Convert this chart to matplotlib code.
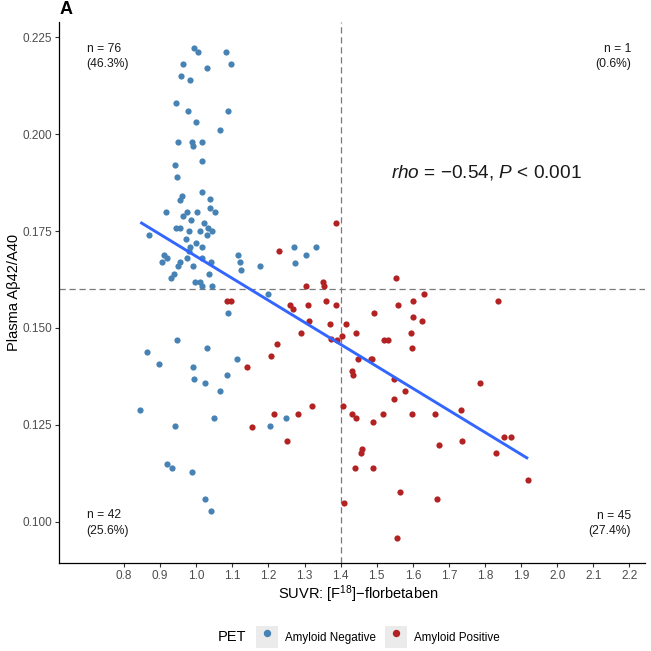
import matplotlib
matplotlib.use("Agg")
import matplotlib.pyplot as plt
import numpy as np
from matplotlib.lines import Line2D
from matplotlib.patches import Rectangle
from matplotlib.legend_handler import HandlerTuple

plt.rcParams["font.family"] = ["Liberation Sans", "DejaVu Sans"]
plt.rcParams["mathtext.fontset"] = "custom"
plt.rcParams["mathtext.rm"] = "Liberation Sans"
plt.rcParams["mathtext.it"] = "Liberation Sans:italic"
plt.rcParams["mathtext.default"] = "regular"

# SUVR (x) and plasma Abeta42/40 ratio (y)
neg_x = [0.994, 1.004, 1.081, 1.096, 0.963, 1.029, 0.958, 0.983, 0.943, 0.977,
         1.088, 1.000, 1.067, 0.950, 0.988, 0.990, 1.017, 0.942, 1.015, 0.946,
         0.960, 1.017, 1.039, 0.955, 1.039, 1.053, 0.917, 0.975, 1.002, 0.964,
         0.986, 1.021, 0.943, 0.956, 1.032, 1.044, 0.980, 1.010, 1.030, 0.869,
         0.971, 1.000, 1.016, 0.982, 0.980, 0.911, 0.920, 0.905, 0.973, 1.017,
         1.040, 0.956, 0.948, 1.115, 1.120, 1.124, 0.992, 1.176, 1.036, 0.937,
         0.930, 0.996, 1.010, 1.017, 1.044, 1.270, 1.332, 1.305, 1.273,
         1.087, 0.946, 0.864, 1.031, 1.113, 0.898, 0.990, 0.993, 1.024, 1.086,
         1.067, 0.845, 1.050, 0.941, 0.919, 0.933, 0.989, 1.025, 1.040, 1.199,
         1.248, 1.203]
neg_y = [0.2221, 0.2211, 0.2211, 0.2180, 0.2180, 0.2170, 0.2150, 0.2140, 0.2080, 0.2060,
         0.2060, 0.2030, 0.2010, 0.1980, 0.1980, 0.1970, 0.1980, 0.1919, 0.1930, 0.1890,
         0.1840, 0.1850, 0.1832, 0.1830, 0.1809, 0.1800, 0.1800, 0.1800, 0.1800, 0.1789,
         0.1779, 0.1770, 0.1758, 0.1758, 0.1758, 0.1749, 0.1749, 0.1749, 0.1740, 0.1740,
         0.1729, 0.1719, 0.1709, 0.1709, 0.1699, 0.1689, 0.1680, 0.1669, 0.1680, 0.1680,
         0.1669, 0.1669, 0.1659, 0.1689, 0.1669, 0.1650, 0.1659, 0.1659, 0.1638, 0.1638,
         0.1628, 0.1619, 0.1619, 0.1608, 0.1608, 0.1710, 0.1710, 0.1689, 0.1668,
         0.1539, 0.1468, 0.1438, 0.1449, 0.1420, 0.1408, 0.1399, 0.1369, 0.1359, 0.1378,
         0.1338, 0.1288, 0.1268, 0.1248, 0.1148, 0.1138, 0.1128, 0.1058, 0.1028, 0.1588,
         0.1268, 0.1248]

pos_x = [1.228, 1.303, 1.350, 1.354, 1.387, 1.554,
         1.086, 1.096, 1.140, 1.155, 1.260, 1.268, 1.309, 1.359, 1.387, 1.312,
         1.370, 1.289, 1.372, 1.389, 1.223, 1.208, 1.321, 1.282, 1.216, 1.252,
         1.630, 1.558, 1.599, 1.492, 1.601, 1.625, 1.416, 1.442, 1.596, 1.403,
         1.519, 1.532, 1.598, 1.449, 1.484, 1.488, 1.430, 1.433, 1.548, 1.577,
         1.548, 1.406, 1.431, 1.442, 1.490, 1.517, 1.598, 1.660, 1.671, 1.460,
         1.456, 1.440, 1.489, 1.565, 1.668, 1.410, 1.555, 1.836, 1.787, 1.732,
         1.735, 1.852, 1.872, 1.830, 1.919]
pos_y = [0.1699, 0.1608, 0.1619, 0.1608, 0.1770, 0.1629,
         0.1569, 0.1569, 0.1399, 0.1244, 0.1559, 0.1548, 0.1559, 0.1569, 0.1559, 0.1518,
         0.1509, 0.1488, 0.1472, 0.1468, 0.1459, 0.1429, 0.1298, 0.1278, 0.1278, 0.1208,
         0.1588, 0.1558, 0.1569, 0.1539, 0.1528, 0.1518, 0.1509, 0.1488, 0.1488, 0.1479,
         0.1468, 0.1468, 0.1449, 0.1420, 0.1420, 0.1420, 0.1389, 0.1378, 0.1369, 0.1338,
         0.1318, 0.1298, 0.1278, 0.1268, 0.1258, 0.1278, 0.1278, 0.1278, 0.1198, 0.1188,
         0.1178, 0.1138, 0.1138, 0.1077, 0.1058, 0.1048, 0.0958, 0.1569, 0.1358, 0.1289,
         0.1208, 0.1218, 0.1218, 0.1178, 0.1108]

suvr_cut = 1.4
ratio_cut = 0.16
quadrant_labels = ["n = 76\n(46.3%)", "n = 1\n(0.6%)", "n = 42\n(25.6%)", "n = 45\n(27.4%)"]
stat_text = r"$\mathit{rho}$ = −0.54, $\mathit{P}$ < 0.001"

x_ticks = np.round(np.arange(0.8, 2.21, 0.1), 1)
y_ticks = [0.100, 0.125, 0.150, 0.175, 0.200, 0.225]

BLUE = "#4682B4"
RED = "#B22222"

fig = plt.figure(figsize=(6.51, 6.51), dpi=100)
ax = fig.add_axes([0.0906, 0.1352, 0.9002, 0.831])

ax.scatter(neg_x, neg_y, s=20, color=BLUE, linewidths=0, zorder=3)
ax.scatter(pos_x, pos_y, s=20, color=RED, linewidths=0, zorder=3)

# linear fit over all points (geom_smooth lm)
all_x = np.array(neg_x + pos_x)
all_y = np.array(neg_y + pos_y)
slope, icpt = np.polyfit(all_x, all_y, 1)
xx = np.linspace(all_x.min(), all_x.max(), 50)
ax.plot(xx, slope * xx + icpt, color="#3366FF", lw=2.1, zorder=4, solid_capstyle="butt")

ax.axvline(suvr_cut, color="#7a7a7a", lw=0.9, ls=(0, (5, 3)), zorder=2)
ax.axhline(ratio_cut, color="#7a7a7a", lw=0.9, ls=(0, (5, 3)), zorder=2)

ax.set_xlim(0.6197, 2.243)
ax.set_ylim(0.0894, 0.2289)
ax.set_xticks(x_ticks)
ax.set_xticklabels([f"{v:.1f}" for v in x_ticks])
ax.set_yticks(y_ticks)
ax.set_yticklabels([f"{v:.3f}" for v in y_ticks])
ax.tick_params(length=2.75, width=0.8, color="#333333", labelcolor="#4d4d4d",
               labelsize=8.5, pad=2)

for side in ("top", "right"):
    ax.spines[side].set_visible(False)
for side in ("left", "bottom"):
    ax.spines[side].set_linewidth(0.9)

ax.set_xlabel(r"SUVR: [F$^{18}$]−florbetaben", fontsize=10.5)
ax.set_ylabel("Plasma Aβ42/A40", fontsize=10.5)
ax.xaxis.set_label_coords(0.511, -0.058)
ax.xaxis.label.set_va("center")
ax.yaxis.set_label_coords(-0.077, 0.5)
ax.yaxis.label.set_va("center")

txt_kw = dict(fontsize=8.7, color="#1a1a1a", linespacing=1.35, va="center")
ax.text(0.696, 0.2199, quadrant_labels[0], ha="left", **txt_kw)
ax.text(2.204, 0.2199, quadrant_labels[1], ha="right", multialignment="right", **txt_kw)
ax.text(0.696, 0.0997, quadrant_labels[2], ha="left", **txt_kw)
ax.text(2.204, 0.0996, quadrant_labels[3], ha="right", multialignment="right", **txt_kw)
ax.text(1.805, 0.1902, stat_text, fontsize=13.7, ha="center", va="center", color="#1a1a1a")

fig.text(60 / 651, 1 - 9 / 651, "A", fontsize=13, fontweight="bold", va="center", ha="left")

# legend at bottom
key_bg = "#ebebeb"
handles = [
    (Rectangle((0, 0), 1, 1, fc=key_bg, ec="none"),
     Line2D([], [], marker="o", ls="", color=BLUE, markersize=4.3)),
    (Rectangle((0, 0), 1, 1, fc=key_bg, ec="none"),
     Line2D([], [], marker="o", ls="", color=RED, markersize=4.3)),
]
fig.legend(handles, ["Amyloid Negative", "Amyloid Positive"],
           handler_map={tuple: HandlerTuple(ndivide=1)},
           loc="center", bbox_to_anchor=(378 / 651, 1 - 637 / 651), ncol=2,
           frameon=False, fontsize=8.4, handlelength=1.9, handleheight=2.5,
           handletextpad=0.6, columnspacing=0.8, borderpad=0)
fig.text(232 / 651, 1 - 637 / 651, "PET", fontsize=10.5, ha="center", va="center")

fig.savefig("out.png", dpi=100)
